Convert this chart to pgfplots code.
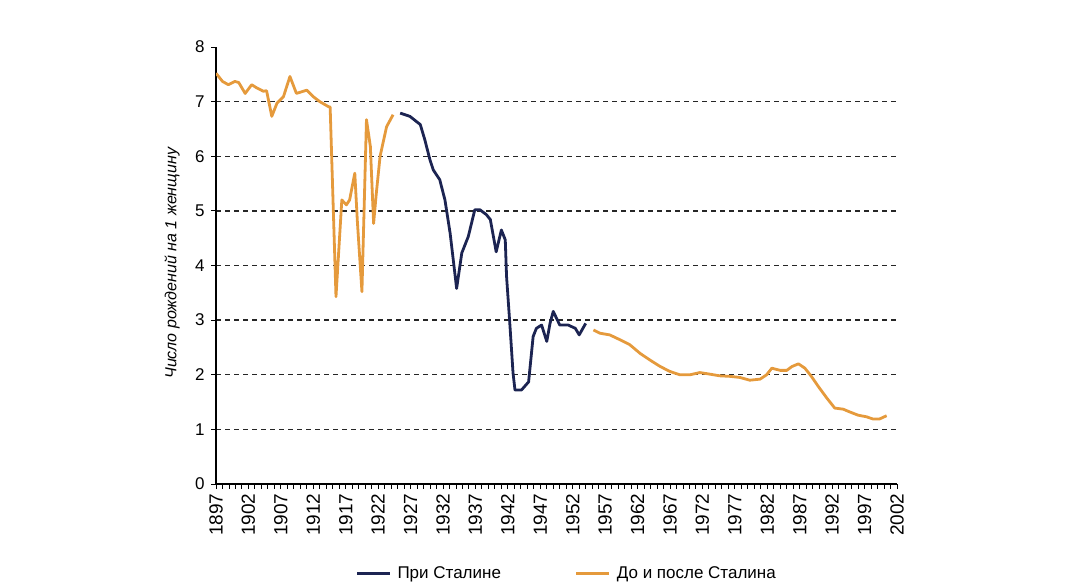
\documentclass[border=0pt]{standalone}
\usepackage{pgfplots}
\pgfplotsset{compat=1.18}
\usepackage{fontspec}
\setmainfont{Liberation Sans}
\definecolor{navy}{HTML}{1C2452}
\definecolor{orng}{HTML}{E59A3C}
\begin{document}
\begin{tikzpicture}[x=1pt,y=1pt]
\path[use as bounding box] (0,0) rectangle (1080,584);
\begin{axis}[
  at={(216pt,100pt)}, anchor=south west,
  scale only axis, width=681pt, height=437pt,
  xmin=1897, xmax=2002, ymin=0, ymax=8,
  axis x line*=bottom, axis y line*=left,
  axis line style={black, line width=1.2pt},
  xtick={1897,1902,...,2002},
  minor xtick={1897,1898,...,2002},
  ytick={0,1,...,7},
  extra y ticks={8},
  extra y tick style={grid=none},
  tick align=outside,
  major tick length=5pt, minor tick length=4.5pt,
  tick style={black, line width=0.9pt},
  xticklabel style={rotate=90, anchor=east, font=\fontsize{19}{21}\selectfont, xshift=-1pt},
  yticklabel style={font=\fontsize{17}{19}\selectfont, xshift=-3pt},
  x tick label style={/pgf/number format/1000 sep={}},
  /pgf/number format/assume math mode=true,
  ymajorgrids,
  grid style={black!85, dash pattern=on 5pt off 4pt, line width=1.4pt},
  ylabel={\itshape Число рождений на 1 женщину},
  ylabel style={at={(axis description cs:-0.0646,0.505)}, anchor=center, font=\fontsize{16}{18}\selectfont},
  legend style={at={(0.515,-0.204)}, anchor=center, draw=none, fill=none,
    legend columns=2, font=\fontsize{17}{19}\selectfont,
    /tikz/every even column/.append style={column sep=72pt}},
  legend image code/.code={\draw[#1, line width=3pt] (0pt,0pt) -- (33pt,0pt); \path (37pt,0pt);},
]
\addplot[navy, line width=2.8pt, line join=round] coordinates {
(1925.4,6.79)(1926.9,6.73)(1928.5,6.58)(1929.2,6.30)(1930,5.93)(1930.5,5.75)(1931.5,5.57)(1932.3,5.2)(1933.1,4.59)(1934.1,3.58)(1934.9,4.23)(1935.9,4.53)(1936.9,5.02)(1937.7,5.02)(1938.7,4.93)(1939.3,4.84)(1940.2,4.25)(1941,4.65)(1941.6,4.47)(1941.8,3.8)(1942.3,2.94)(1942.8,2.03)(1943.1,1.72)(1944.1,1.72)(1945.2,1.87)(1945.9,2.70)(1946.4,2.85)(1947.2,2.91)(1948,2.61)(1948.5,2.94)(1949,3.16)(1950,2.91)(1951.3,2.91)(1952.4,2.85)(1953,2.73)(1954,2.94)
};
\addlegendentry{При Сталине}
\addplot[orng, line width=2.8pt, line join=round] coordinates {
(1897,7.52)(1898,7.37)(1898.9,7.31)(1899.9,7.37)(1900.5,7.35)(1901.5,7.15)(1902.5,7.31)(1903.3,7.25)(1904.3,7.19)(1904.8,7.2)(1905.6,6.73)(1906.4,6.97)(1907.4,7.09)(1908.4,7.46)(1909.4,7.15)(1911,7.21)(1912,7.09)(1913,7.0)(1914.3,6.91)(1914.6,6.9)(1915.5,3.43)(1916.4,5.2)(1917.1,5.11)(1917.6,5.2)(1918.4,5.69)(1918.8,4.8)(1919.5,3.52)(1920.2,6.67)(1920.8,6.18)(1921.3,4.77)(1921.7,5.3)(1922.3,6.0)(1923.3,6.54)(1924.3,6.76)
};
\addlegendentry{До и после Сталина}
\addplot[orng, line width=2.8pt, line join=round, forget plot] coordinates {
(1955.2,2.82)(1956.2,2.76)(1957.7,2.73)(1959.3,2.64)(1960.8,2.55)(1962.4,2.39)(1963.9,2.27)(1965.5,2.15)(1967,2.06)(1968.5,2.0)(1970.1,2.0)(1971.6,2.04)(1973.2,2.01)(1974.7,1.98)(1976.3,1.97)(1977.8,1.95)(1979.3,1.90)(1980.9,1.92)(1981.9,2.0)(1982.7,2.12)(1984,2.08)(1985,2.08)(1985.8,2.15)(1986.8,2.20)(1987.8,2.12)(1988.8,1.97)(1989.9,1.78)(1991.2,1.57)(1992.4,1.39)(1993.7,1.37)(1994.7,1.32)(1996,1.26)(1997.3,1.23)(1998.3,1.19)(1999.3,1.19)(2000.4,1.25)
};
\end{axis}
\end{tikzpicture}
\end{document}
